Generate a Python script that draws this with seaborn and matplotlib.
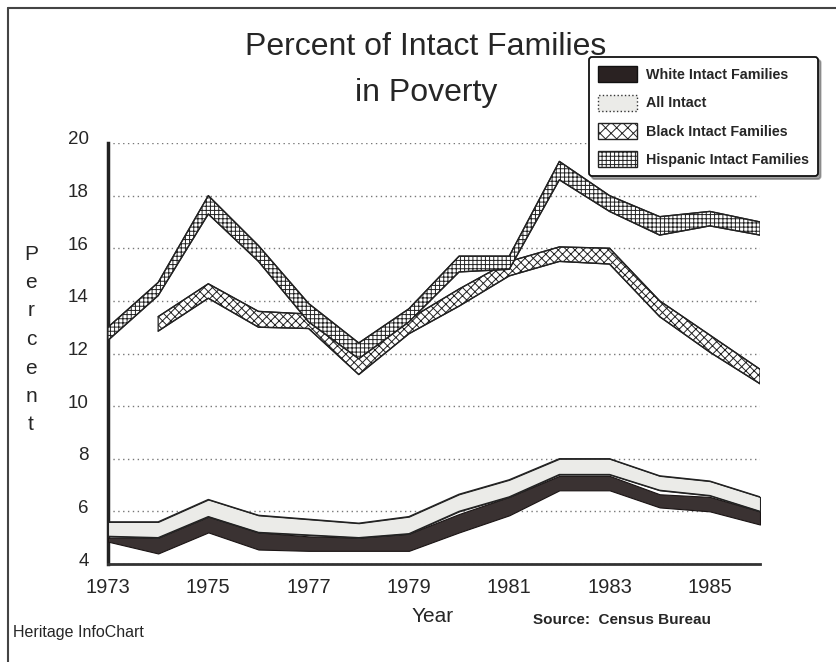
import numpy as np
import pandas as pd
import matplotlib
matplotlib.use('Agg')
import matplotlib.pyplot as plt
import matplotlib.transforms as mtransforms
from matplotlib.patches import Patch
from matplotlib.lines import Line2D
import seaborn as sns

# Значения (верхняя и нижняя кромка каждой ленты)
years = [1973, 1974, 1975, 1976, 1977, 1978, 1979, 1980, 1981, 1982, 1983, 1984, 1985, 1986]

hisp_hi = [13.0, 14.7, 18.0, 16.1, 13.9, 12.4, 13.7, 15.7, 15.7, 19.3, 18.0, 17.2, 17.4, 17.0]
hisp_lo = [12.5, 14.2, 17.3, 15.5, 13.2, 11.8, 13.2, 15.1, 15.2, 18.6, 17.4, 16.5, 16.85, 16.5]

black_years = [1974, 1975, 1976, 1977, 1978, 1979, 1980, 1981, 1982, 1983, 1984, 1985, 1986]
black_hi = [13.4, 14.65, 13.6, 13.5, 11.9, 13.3, 14.45, 15.5, 16.05, 16.0, 14.0, 12.7, 11.4]
black_lo = [12.85, 14.1, 13.0, 12.95, 11.2, 12.75, 13.8, 14.95, 15.5, 15.4, 13.4, 12.05, 10.85]

all_hi = [5.6, 5.6, 6.45, 5.85, 5.7, 5.55, 5.8, 6.65, 7.2, 8.0, 8.0, 7.35, 7.15, 6.55]
all_lo = [5.05, 5.0, 5.8, 5.2, 5.1, 5.0, 5.15, 6.0, 6.55, 7.4, 7.4, 6.8, 6.6, 6.0]

white_hi = [5.0, 5.0, 5.8, 5.2, 5.05, 5.0, 5.15, 5.9, 6.55, 7.35, 7.35, 6.65, 6.55, 6.0]
white_lo = [4.85, 4.4, 5.2, 4.55, 4.5, 4.5, 4.5, 5.2, 5.85, 6.8, 6.8, 6.15, 6.0, 5.5]

labels = ['White Intact Families', 'All Intact', 'Black Intact Families', 'Hispanic Intact Families']
y_ticks = [4, 6, 8, 10, 12, 14, 16, 18, 20]

sns.set_theme(style='white')
plt.rcParams['font.family'] = ['Liberation Sans', 'DejaVu Sans']
plt.rcParams['hatch.linewidth'] = 0.7

fig = plt.figure(figsize=(8.37, 6.62), dpi=100)
ax = fig.add_axes([108 / 837, 1 - 564 / 662, 652 / 837, 421 / 662])

# ленты
ax.fill_between(years, white_lo, white_hi, facecolor='#3a3232', edgecolor='#1a1414', lw=0.8, zorder=3)
ax.fill_between(years, all_lo, all_hi, facecolor='#ebebe8', edgecolor='#222222', lw=0.8, zorder=3)
ax.fill_between(black_years, black_lo, black_hi, facecolor='white', edgecolor='#222222',
                hatch='xxxx', lw=0.9, zorder=4)
ax.fill_between(years, hisp_lo, hisp_hi, facecolor='white', edgecolor='#222222',
                hatch='++++', lw=0.9, zorder=5)

# кромки лент
for xs, ys, z in [(years, all_hi, 3.5), (years, all_lo, 3.5),
                  (black_years, black_hi, 4.5), (black_years, black_lo, 4.5),
                  (years, hisp_hi, 5.5), (years, hisp_lo, 5.5)]:
    sns.lineplot(x=xs, y=ys, color='#222222', lw=1.0, ax=ax, zorder=z)

ax.set_xlim(1973, 1986)
ax.set_ylim(4, 20)
ax.set_yticks(y_ticks)
ax.set_yticklabels([str(v) for v in y_ticks], fontsize=13.5)
ax.set_xticks(years)
ax.set_xticklabels([str(y) if (y - 1973) % 2 == 0 else '' for y in years], fontsize=14.5)
ax.tick_params(axis='x', direction='out', length=9, width=2, color='#222222', pad=1)
ax.tick_params(axis='y', direction='out', length=8, width=1.2, color='#222222', pad=6)
# подписи Y чуть выше засечек, как на оригинале
shift = mtransforms.ScaledTranslation(0, 5 / 100, fig.dpi_scale_trans)
for lab in ax.get_yticklabels():
    lab.set_transform(lab.get_transform() + shift)
ax.yaxis.grid(True, linestyle=(0, (1, 2.5)), color='#777777', lw=1)
ax.set_axisbelow(True)
ax.set_xlabel('')
ax.set_ylabel('')

sns.despine(ax=ax, top=True, right=True)
ax.spines['left'].set_linewidth(2.5)
ax.spines['left'].set_color('#222222')
ax.spines['bottom'].set_linewidth(2)
ax.spines['bottom'].set_color('#333333')

# заголовок
fig.text(426 / 837, 1 - 47 / 662, 'Percent of Intact Families', ha='center', va='center', fontsize=23)
fig.text(426 / 837, 1 - 93 / 662, 'in Poverty', ha='center', va='center', fontsize=23)

# вертикальная подпись оси Y по буквам
for i, ch in enumerate('Percent'):
    fig.text(31 / 837, 1 - (254 + i * 28.5) / 662, ch, ha='center', va='center', fontsize=15)

fig.text(433 / 837, 1 - 617 / 662, 'Year', ha='center', va='center', fontsize=15)
fig.text(533 / 837, 1 - 620 / 662, 'Source:  Census Bureau', ha='left', va='center',
         fontsize=11, fontweight='bold')
fig.text(13 / 837, 1 - 632 / 662, 'Heritage InfoChart', ha='left', va='center', fontsize=11.5)

# легенда
handles = [
    Patch(facecolor='#2a2222', edgecolor='#111111'),
    Patch(facecolor='#ebebe8', edgecolor='#333333', linestyle=':'),
    Patch(facecolor='white', edgecolor='#222222', hatch='xxx'),
    Patch(facecolor='white', edgecolor='#222222', hatch='++++'),
]
leg = fig.legend(handles, labels, loc='upper left', bbox_to_anchor=(589 / 837, 1 - 57 / 662),
                 fontsize=10.3, frameon=True, fancybox=True, shadow=True,
                 handlelength=2.7, handleheight=1.35, labelspacing=0.85, borderpad=0.65,
                 handletextpad=0.6, borderaxespad=0)
leg.get_frame().set_edgecolor('#111111')
leg.get_frame().set_linewidth(1.3)
for t in leg.get_texts():
    t.set_fontweight('bold')

# рамка сверху и слева, как на скане
fig.add_artist(Line2D([8 / 837, 8 / 837], [0, 1 - 8 / 662], transform=fig.transFigure,
                      color='#444444', lw=1.5))
fig.add_artist(Line2D([8 / 837, 1], [1 - 8 / 662, 1 - 8 / 662], transform=fig.transFigure,
                      color='#444444', lw=1.5))

fig.savefig('out.png', dpi=100)
